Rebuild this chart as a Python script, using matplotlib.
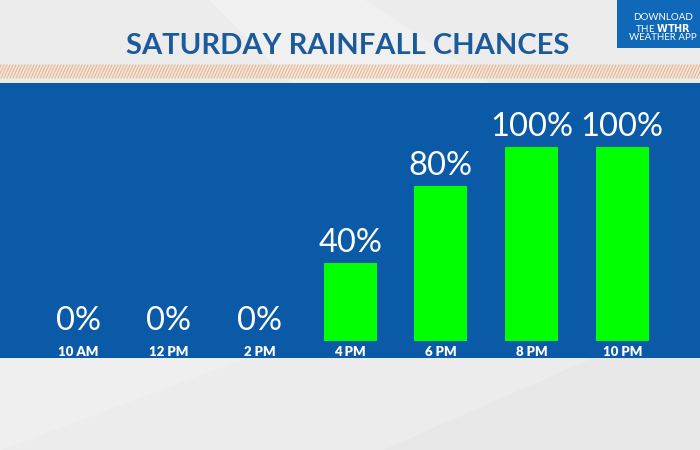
"""
Saturday rainfall chances: green bars on a blue TV-graphic panel.
"""
import matplotlib
matplotlib.use("Agg")
import matplotlib.pyplot as plt
from matplotlib.lines import Line2D
from matplotlib.patches import Rectangle, Polygon

TIMES = ["10 AM", "12 PM", "2 PM", "4 PM", "6 PM", "8 PM", "10 PM"]
CHANCES = [0, 0, 0, 40, 80, 100, 100]
TITLE = "SATURDAY RAINFALL CHANCES"

BG = "#ececec"
PANEL = "#0b5aa7"
GREEN = "#00ff00"
TITLE_BLUE = "#1b5b9c"
STRIPE = "#efb58c"

W, H = 700, 450


def fy(px):
    """Pixel row (from top) to figure fraction."""
    return 1 - px / H


def main():
    plt.rcParams["font.family"] = ["Lato", "DejaVu Sans"]
    fig = plt.figure(figsize=(7, 4.5), dpi=100, facecolor=BG)

    # faint background facets
    fig.add_artist(Polygon([(0.30, fy(0)), (0.52, fy(0)), (0.70, fy(84)), (0.42, fy(84))],
                           closed=True, transform=fig.transFigure, color="#f0f0f0", zorder=0))
    fig.add_artist(Polygon([(0.0, fy(358)), (0.35, fy(358)), (0.0, fy(450))],
                           closed=True, transform=fig.transFigure, color="#efefef", zorder=0))
    fig.add_artist(Polygon([(0.55, fy(450)), (0.85, fy(358)), (1.0, fy(358)), (1.0, fy(450))],
                           closed=True, transform=fig.transFigure, color="#e8e8e8", zorder=0))

    # title
    fig.text(348 / W, fy(46), TITLE, ha="center", va="center", fontsize=21,
             fontweight="bold", color=TITLE_BLUE)

    # hatched stripe
    for x in range(-20, W + 20, 3):
        fig.add_artist(Line2D([x / W, (x + 6) / W], [fy(78), fy(65)],
                              transform=fig.transFigure, color=STRIPE, lw=0.9))

    # app promo box
    fig.add_artist(Rectangle((617 / W, fy(48)), 83 / W, 48 / H, transform=fig.transFigure,
                             facecolor="#1068b8", edgecolor="none", zorder=2))
    fig.text(663 / W, fy(18), "DOWNLOAD", ha="center", va="center", fontsize=7,
             color="white", zorder=3)
    fig.text(663 / W, fy(27.5), "THE $\\bf{WTHR}$", ha="center", va="center", fontsize=7,
             color="white", zorder=3)
    fig.text(663 / W, fy(37), "WEATHER APP", ha="center", va="center", fontsize=7,
             color="white", zorder=3)

    # blue panel axes: x0 = 0..700 px, y = 83..358 px
    ax = fig.add_axes([0, fy(358), 1, (358 - 83) / H])
    ax.set_facecolor(PANEL)
    for s in ax.spines.values():
        s.set_visible(False)
    ax.set_xticks([])
    ax.set_yticks([])

    step = 90.7
    x0 = 78.0
    ax.set_xlim(-x0 / step, (W - x0) / step)
    scale = 1.94  # px per percent
    ax.set_ylim(-(358 - 341) / scale, (341 - 83) / scale)

    xs = list(range(len(TIMES)))
    ax.bar(xs, CHANCES, width=0.585, color=GREEN, zorder=2)

    for x, v, t in zip(xs, CHANCES, TIMES):
        ax.annotate(f"{v}%", (x, v), xytext=(0, 5), textcoords="offset pixels",
                    ha="center", va="bottom", fontsize=23.5, fontweight="normal",
                    color="white")
        ax.text(x, -(352 - 341) / scale, t, ha="center", va="center", fontsize=9.5,
                fontweight="heavy", color="white")

    fig.savefig("out.png", dpi=100, facecolor=BG)


if __name__ == "__main__":
    main()
